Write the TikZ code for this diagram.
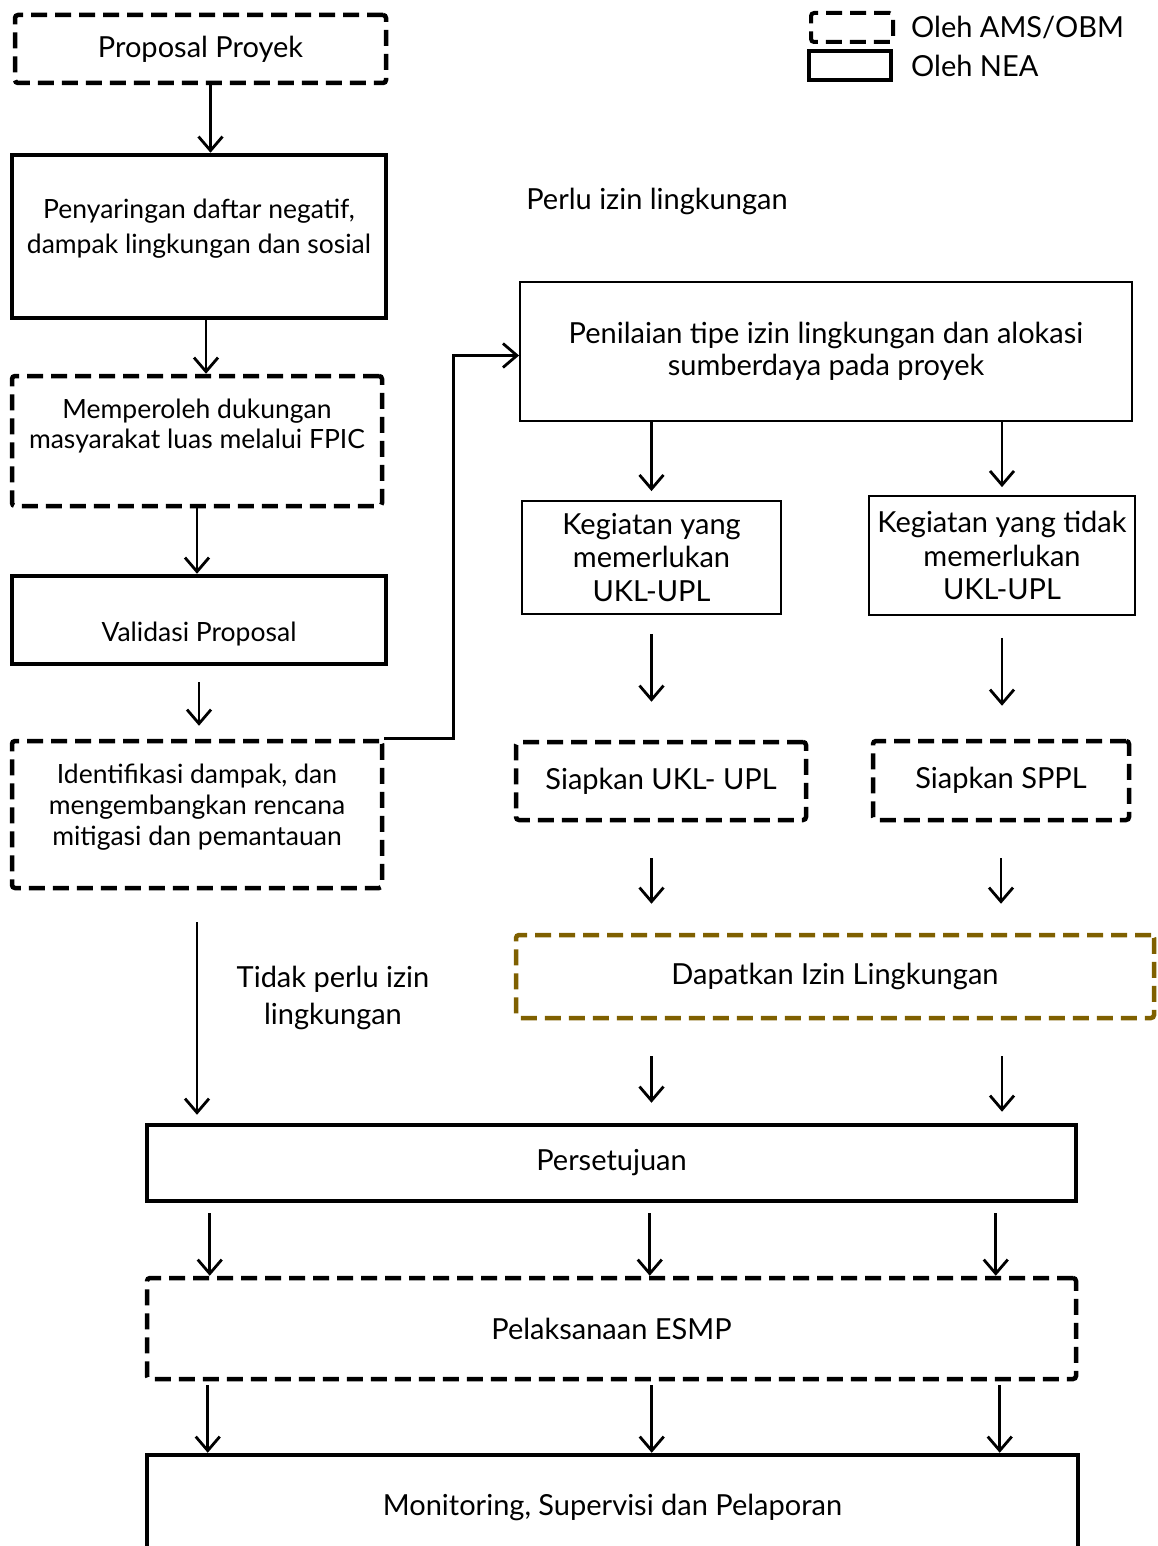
\documentclass[tikz,border=0pt]{standalone}
\usepackage{fontspec}
\setmainfont{Lato}
\usetikzlibrary{arrows.meta,calc}
\definecolor{izinolive}{HTML}{7F6000}
\tikzset{
  amsbox/.style={rectangle, rounded corners=3pt, draw=black, line width=4.5pt,
                 dash pattern=on 16pt off 8pt, align=center, inner sep=0pt,
                 font=\fontsize{29}{31}\selectfont},
  neabox/.style={rectangle, draw=black, line width=4.5pt, align=center,
                 inner sep=0pt, font=\fontsize{29}{35}\selectfont},
  thinbox/.style={rectangle, draw=black, line width=1.8pt, align=center,
                  inner sep=0pt, font=\fontsize{29}{32}\selectfont},
  kegbox/.style={thinbox, font=\fontsize{29}{33.5}\selectfont},
  izinbox/.style={amsbox, draw=izinolive},
  leftcol/.style={font=\fontsize{26.5}{#1}\selectfont},
  lbl/.style={align=center, inner sep=0pt, font=\fontsize{29}{37}\selectfont},
  arr/.style={-{Straight Barb[length=14pt,width=24pt]}, line width=2.8pt}
}
\begin{document}
\begin{tikzpicture}[x=1pt,y=-1pt]
\useasboundingbox (0,0) rectangle (1157,1546);
\node[amsbox, minimum width=371pt, minimum height=68pt] (prop) at (200.5,49) {Proposal Proyek};
\node[neabox, leftcol=35, minimum width=374pt, minimum height=163pt] (scr) at (199,236.5)
  {Penyaringan daftar negatif,\\dampak lingkungan dan sosial\\[-15pt]\mbox{}};
\node[amsbox, leftcol=30, minimum width=370pt, minimum height=130pt] (fpic) at (197,441)
  {Memperoleh dukungan\\masyarakat luas melalui FPIC\\[4pt]\mbox{}};
\node[neabox, leftcol=35, text height=48pt, text depth=5pt, minimum width=374pt,
  minimum height=88pt] (val) at (199,620) {Validasi Proposal};
\node[amsbox, leftcol=31, minimum width=370pt, minimum height=147pt] (ident) at (197,814.5)
  {Identifikasi dampak, dan\\mengembangkan rencana\\mitigasi dan pemantauan\\[-11pt]\mbox{}};
\node[thinbox, minimum width=612pt, minimum height=139pt] (pen) at (826,351.5)
  {Penilaian tipe izin lingkungan dan alokasi\\sumberdaya pada proyek};
\node[kegbox, minimum width=259pt, minimum height=113pt] (keg1) at (651.5,557.5)
  {Kegiatan yang\\memerlukan\\UKL-UPL};
\node[kegbox, minimum width=266pt, minimum height=119pt] (keg2) at (1002,555.5)
  {Kegiatan yang tidak\\memerlukan\\UKL-UPL};
\node[amsbox, minimum width=290pt, minimum height=78pt] (ukl) at (661,781) {Siapkan UKL- UPL};
\node[amsbox, minimum width=256pt, minimum height=79pt] (sppl) at (1001,780.5) {Siapkan SPPL};
\node[izinbox, minimum width=638pt, minimum height=83pt] (izin) at (835,976.5) {Dapatkan Izin Lingkungan};
\node[neabox, minimum width=929pt, minimum height=76pt] (setuju) at (611.5,1163) {Persetujuan};
\node[amsbox, minimum width=929pt, minimum height=101pt] (esmp) at (611.5,1328.5) {Pelaksanaan ESMP};
\node[neabox, minimum width=931pt, minimum height=105pt] (mon) at (612.5,1507.5)
  {Monitoring, Supervisi dan Pelaporan};

\node[lbl] (perlu) at (657,201) {Perlu izin lingkungan};
\node[lbl] (tidak) at (333,997.5) {Tidak perlu izin\\lingkungan};

\node[amsbox, line width=4pt, minimum width=82pt, minimum height=29pt] (legams) at (852,27.5) {};
\node[neabox, minimum width=82pt, minimum height=29pt] (legnea) at (850,65.5) {};
\node[lbl, anchor=west] (legamstxt) at (911,27.5) {Oleh AMS/OBM};
\node[lbl, anchor=west] (legneatxt) at (911,65.5) {Oleh NEA};

\draw[arr] ([xshift=10pt]prop.south) -- ([xshift=10pt]prop.south |- scr.north);
\draw[arr] ([xshift=7pt]scr.south) -- ([xshift=7pt]scr.south |- fpic.north);
\draw[arr] (fpic.south) -- (fpic.south |- val.north);
\draw[arr, shorten <=16pt, shorten >=13pt] (val.south) -- (val.south |- ident.north);
\draw[arr] (ident.north east) -- ++(69,0) |- ([yshift=-4pt]pen.west);
\draw[arr, shorten <=32pt, shorten >=8pt] (ident.south) -- (ident.south |- setuju.north);
\draw[arr, shorten >=9pt] (keg1.north |- pen.south) -- (keg1.north);
\draw[arr, shorten >=8pt] (keg2.north |- pen.south) -- (keg2.north);
\draw[arr, shorten <=19pt, shorten >=38pt] (keg1.south) -- (keg1.south |- ukl.north);
\draw[arr, shorten <=22pt, shorten >=33pt] (keg2.south) -- (keg2.south |- sppl.north);
\draw[arr, shorten <=36pt, shorten >=29pt] (ukl.south -| keg1) -- (keg1 |- izin.north);
\draw[arr, shorten <=36pt, shorten >=29pt] (sppl.south) -- (sppl.south |- izin.north);
\draw[arr, shorten <=36pt, shorten >=20pt] (izin.south -| keg1) -- (keg1 |- setuju.north);
\draw[arr, shorten <=36pt, shorten >=11pt] (izin.south -| keg2) -- (keg2 |- setuju.north);
\foreach \dx in {65,505,851}
  \draw[arr, shorten <=10pt] ([xshift=\dx pt]setuju.south west) -- ([xshift=\dx pt]esmp.north west);
\foreach \dx in {63,507,855}
  \draw[arr, shorten <=4pt] ([xshift=\dx pt]esmp.south west) -- ([xshift=\dx pt]mon.north west);
\end{tikzpicture}
\end{document}
